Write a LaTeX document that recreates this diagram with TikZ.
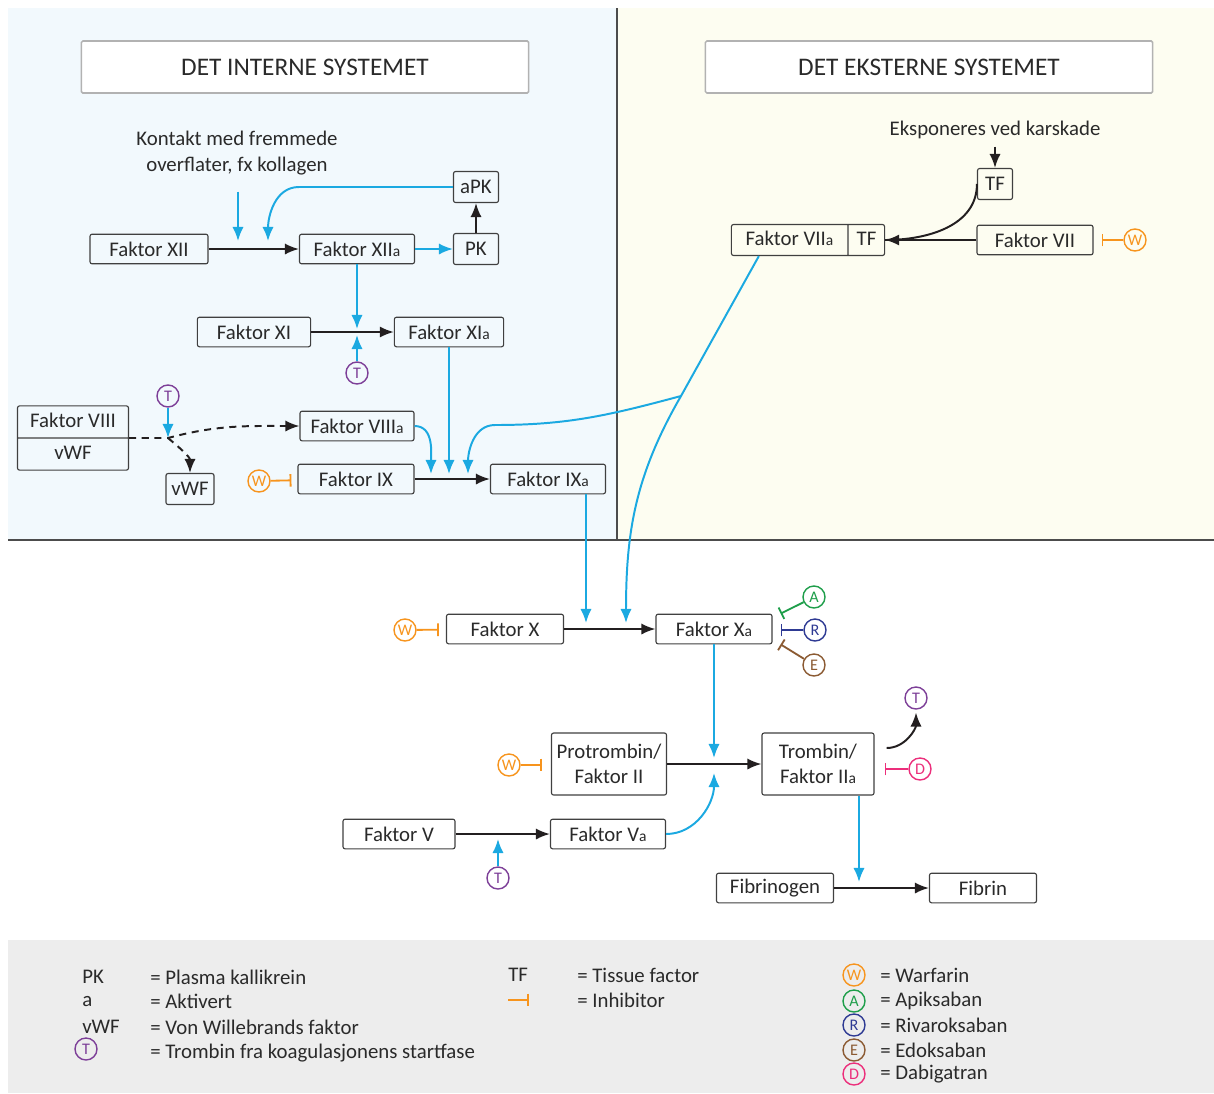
\documentclass[tikz,border=0pt]{standalone}
\usepackage{fontspec}
\setmainfont{Carlito}
\usetikzlibrary{arrows,arrows.meta,shapes.multipart}

\definecolor{flowblue}{HTML}{1BA9E1}
\definecolor{worange}{HTML}{F7941D}
\definecolor{tpurple}{HTML}{7D3F98}
\definecolor{agreen}{HTML}{1E9E4A}
\definecolor{rblue}{HTML}{2E3A93}
\definecolor{ebrown}{HTML}{8B5A32}
\definecolor{dpink}{HTML}{EC2E7B}
\definecolor{intbg}{HTML}{F2F9FD}
\definecolor{extbg}{HTML}{FDFDF1}
\definecolor{legbg}{HTML}{EDEDED}
\definecolor{boxline}{HTML}{404040}
\definecolor{arrowblack}{HTML}{231F20}
\definecolor{txt}{HTML}{2A2A2A}

\newcommand{\akt}{{\fontsize{11}{11}\selectfont a}}
\newcommand{\splitstrut}{\rule[-0.24cm]{0pt}{0.775cm}}

\tikzset{
  box/.style={draw=boxline, line width=0.8pt, rounded corners=1.5pt, minimum height=0.74cm, inner sep=3pt},
  header/.style={draw=gray!60, line width=1.1pt, fill=white, rounded corners=1pt,
    minimum width=11.175cm, minimum height=1.3cm, font=\fontsize{18}{20}\selectfont},
  drug/.style={circle, draw=#1, text=#1, line width=1pt, inner sep=0pt, minimum size=0.55cm,
    font=\fontsize{11.5}{12}\selectfont},
  blackarr/.style={->, draw=arrowblack, line width=1.4pt},
  bluearr/.style={->, draw=flowblue, line width=1.4pt},
  dasharr/.style={->, draw=arrowblack, line width=1.4pt, dash pattern=on 5pt off 4pt},
  inhib/.style={-{Bar[width=9pt]}, draw=#1, line width=1.3pt},
  legtxt/.style={anchor=west, inner xsep=0pt}
}

\begin{document}
\begin{tikzpicture}[x=0.025cm,y=-0.025cm,>={Latex[length=10pt,width=8pt]},text=txt,font=\fontsize{14.8}{18}\selectfont]
\useasboundingbox (0,0) rectangle (1214,1093);
% bakgrunn
\fill[white] (0,0) rectangle (1214,1093);
\fill[intbg] (8,8) rectangle (617,540);
\fill[extbg] (617,8) rectangle (1214,540);
\fill[legbg] (8,940) rectangle (1214,1093);
\draw[line width=0.9pt,black!70] (617,8) -- (617,540);
\draw[line width=0.9pt,black!70] (8,540) -- (1214,540);

\node[header] (hint) at (305,67) {DET INTERNE SYSTEMET};
\node[header] (hext) at (929,67) {DET EKSTERNE SYSTEMET};

% det interne systemet
\node[align=center] (kontakt) at (237,153) {Kontakt med fremmede\\overflater, fx kollagen};
\node[box, minimum width=2.95cm] (f12) at (149,249) {Faktor XII};
\node[box, minimum width=2.875cm] (f12a) at (357,249) {Faktor XII\akt};
\node[box, minimum width=1.125cm, minimum height=0.775cm] (pk) at (476,249) {PK};
\node[box, minimum width=1.125cm, minimum height=0.775cm] (apk) at (476,187) {aPK};
\node[box, minimum width=2.83cm] (f11) at (254,332) {Faktor XI};
\node[box, minimum width=2.73cm] (f11a) at (449,332) {Faktor XI\akt};
\node[drug=tpurple] (t1) at (357,373) {T};
\node[box, rectangle split, rectangle split parts=2, minimum width=2.775cm, inner ysep=0pt] (f8) at (73,438)
  {\splitstrut Faktor VIII\nodepart{two}\splitstrut vWF};
\node[drug=tpurple] (t2) at (168,396) {T};
\node[box, minimum width=1.2cm, minimum height=0.775cm] (vwf) at (190,489) {vWF};
\node[box, minimum width=2.85cm] (f8a) at (357,426) {Faktor VIII\akt};
\node[box, minimum width=2.9cm] (f9) at (356,479) {Faktor IX};
\node[box, minimum width=2.875cm] (f9a) at (548,479) {Faktor IX\akt};
\node[drug=worange] (w1) at (259,481) {W};

\coordinate (j12a) at (238,241);
\coordinate (j12b) at (268,241);
\coordinate (j11a) at (357,329);
\coordinate (j11b) at (357,335);
\coordinate (j8) at (168,438);
\coordinate (j9a) at (431,474);
\coordinate (j9b) at (449,474);
\coordinate (j9c) at (468,474);

% det eksterne systemet
\node (skade) at (995,130) {Eksponeres ved karskade};
\node[box, minimum width=0.875cm, minimum height=0.775cm] (tf) at (995,184) {TF};
\node[box, rectangle split, rectangle split horizontal, rectangle split parts=2, inner xsep=0pt, inner ysep=0pt] (f7a) at (808,240)
  {\splitstrut\makebox[2.9cm]{Faktor VII\akt}\nodepart{two}\splitstrut\makebox[0.9cm]{TF}};
\node[box, minimum width=2.9cm] (f7) at (1035,240) {Faktor VII};
\node[drug=worange] (w2) at (1135,240) {W};
\coordinate (split7) at (681,396);

% felles vei
\node[box, minimum width=2.925cm] (f10) at (505,629) {Faktor X};
\node[box, minimum width=2.9cm] (f10a) at (714,629) {Faktor X\akt};
\node[drug=worange] (w3) at (405,630) {W};
\node[drug=agreen] (da) at (814,597) {A};
\node[drug=rblue] (dr) at (815,630) {R};
\node[drug=ebrown] (de) at (814,665) {E};
\coordinate (j10a) at (586,623);
\coordinate (j10b) at (626,623);

\node[box, align=center, minimum width=2.875cm, minimum height=1.55cm] (f2) at (609,764) {Protrombin/\\Faktor II};
\node[box, align=center, minimum width=2.8cm, minimum height=1.55cm] (f2a) at (818,764) {Trombin/\\Faktor II\akt};
\node[drug=worange] (w4) at (509,765) {W};
\node[drug=dpink] (dd) at (920,769) {D};
\node[drug=tpurple] (t4) at (916,698) {T};
\coordinate (j2a) at (714,758);
\coordinate (j2b) at (714,773);
\node[box, minimum width=2.8cm] (f5) at (399,834) {Faktor V};
\node[box, minimum width=2.875cm] (f5a) at (608,834) {Faktor V\akt};
\node[drug=tpurple] (t3) at (498,878) {T};
\coordinate (j5) at (498,839);
\node[box, minimum width=2.925cm] (fgen) at (775,888) {Fibrinogen};
\node[box, minimum width=2.675cm] (fin) at (983,888) {Fibrin};
\coordinate (jfib) at (859,882);

% piler, interne
\draw[blackarr] (f12) -- (f12a);
\draw[bluearr, shorten <=0.3cm] (kontakt.south -| j12a) -- (j12a);
\draw[bluearr] (apk.west) -- (apk.west -| f12a.west) to[out=180,in=90] (j12b);
\draw[bluearr] (f12a) -- (pk);
\draw[blackarr] (pk) -- (apk);
\draw[blackarr] (f11) -- (f11a);
\draw[bluearr] (f12a) -- (j11a);
\draw[bluearr] (t1) -- (j11b);
\draw[dasharr] (f8.east) -- (j8) to[out=15,in=180] (f8a.west);
\draw[dasharr] (j8) to[out=-40,in=90] (vwf.north);
\draw[bluearr] (t2) -- (j8);
\draw[bluearr] (f8a.east) to[out=0,in=90] (j9a);
\draw[bluearr] (f11a) -- (j9b);
\draw[blackarr] (f9) -- (f9a);
\draw[inhib=worange, shorten >=0.15cm] (w1) -- (f9);

% piler, eksterne
\draw[blackarr, shorten <=2pt] (skade.south) -- (tf.north);
\draw[blackarr] (f7) -- (f7a);
\draw[arrowblack, line width=1.4pt] (tf.west) to[out=270,in=0] (f7a.east);
\draw[inhib=worange, shorten >=0.2cm] (w2) -- (f7);
\draw[bluearr] ([xshift=0.7cm]f7a.south west) -- (split7) to[out=240,in=90] (j10b);
\draw[bluearr] (split7) to[out=195,in=0] (495,425) to[out=180,in=90] (j9c);

% felles vei
\draw[bluearr] (f9a.south -| j10a) -- (j10a);
\draw[blackarr] (f10) -- (f10a);
\draw[inhib=worange, shorten >=0.175cm] (w3) -- (f10);
\draw[inhib=agreen] (da) -- ([xshift=0.2cm]f10a.north east);
\draw[inhib=rblue, shorten >=0.2cm] (dr) -- (dr -| f10a.east);
\draw[inhib=ebrown] (de) -- ([xshift=0.2cm]f10a.south east);
\draw[bluearr] (f10a) -- (j2a);
\draw[blackarr] (f2) -- (f2a);
\draw[inhib=worange, shorten >=0.225cm] (w4) -- (w4 -| f2.west);
\draw[blackarr] (f5) -- (f5a);
\draw[bluearr] (t3) -- (j5);
\draw[bluearr] (f5a.east) to[out=0,in=270] (j2b);
\draw[blackarr, shorten >=2pt] ([xshift=0.3cm,yshift=0.4cm]f2a.east) to[out=0,in=270] (t4);
\draw[inhib=dpink, shorten >=0.25cm] (dd) -- (dd -| f2a.east);
\draw[bluearr] (f2a.south -| jfib) -- (jfib);
\draw[blackarr] (fgen) -- (fin);

% forklaring
\node[legtxt] (lpk) at (82,977) {PK};
\node[legtxt] (lpkt) at (150,977) {= Plasma kallikrein};
\node[legtxt] (la) at (82,1001) {a};
\node[legtxt] (lat) at (150,1001) {= Aktivert};
\node[legtxt] (lvwf) at (82,1027) {vWF};
\node[legtxt] (lvwft) at (150,1027) {= Von Willebrands faktor};
\node[drug=tpurple] (lt) at (86,1049) {T};
\node[legtxt] (ltt) at (150,1053) {= Trombin fra koagulasjonens startfase};
\node[legtxt] (ltf) at (508,975) {TF};
\node[legtxt] (ltft) at (577,975) {= Tissue factor};
\coordinate (linA) at (508,1000);
\coordinate (linB) at (529,1000);
\draw[inhib=worange] (linA) -- (linB);
\node[legtxt] (lint) at (577,1000) {= Inhibitor};
\node[drug=worange] (lw) at (854,975) {W};
\node[legtxt] (lwt) at (880,975) {= Warfarin};
\node[drug=agreen] (la2) at (854,1001) {A};
\node[legtxt] (lat2) at (880,1001) {= Apiksaban};
\node[drug=rblue] (lr) at (854,1025) {R};
\node[legtxt] (lrt) at (880,1025) {= Rivaroksaban};
\node[drug=ebrown] (le) at (854,1050) {E};
\node[legtxt] (let) at (880,1050) {= Edoksaban};
\node[drug=dpink] (ld) at (854,1074) {D};
\node[legtxt] (ldt) at (880,1074) {= Dabigatran};
\end{tikzpicture}
\end{document}
